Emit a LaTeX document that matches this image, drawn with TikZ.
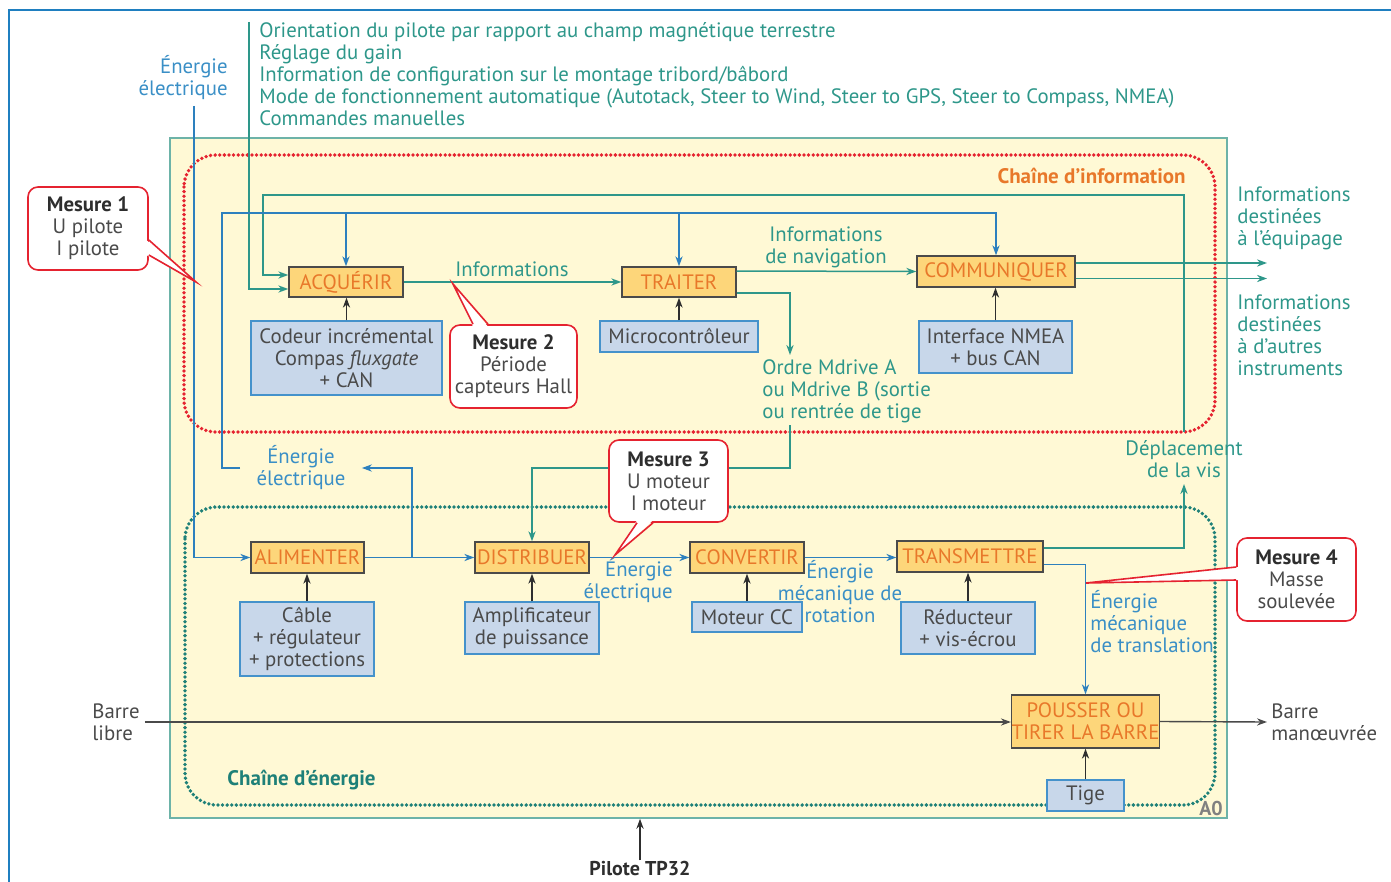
\documentclass[tikz,border=0pt]{standalone}
\usepackage{fontspec}
\setmainfont{PT Sans}
\usetikzlibrary{arrows.meta,positioning,calc}
\definecolor{infoteal}{HTML}{2E978A}
\definecolor{enerblue}{HTML}{2D80BE}
\definecolor{enertext}{HTML}{3A8FC6}
\definecolor{fonctorange}{HTML}{E8782A}
\definecolor{fonctfill}{HTML}{FDD67A}
\definecolor{boxline}{HTML}{4A4A4A}
\definecolor{supfill}{HTML}{C8D7EA}
\definecolor{supline}{HTML}{4592CB}
\definecolor{mesred}{HTML}{E52330}
\definecolor{fondjaune}{HTML}{FFF9D5}
\definecolor{cadreteal}{HTML}{6DB3A8}
\definecolor{enerdot}{HTML}{1E8078}
\definecolor{inkdark}{HTML}{2E2E2E}
\definecolor{inkgray}{HTML}{4A4A4A}
\definecolor{frameblue}{HTML}{1F7FC0}

% pointer of a callout: two base points on the border, tip, inward shift
\newcommand{\pointe}[4]{%
  \fill[white] ($#1+#4$) -- #3 -- ($#2+#4$) -- cycle;
  \draw[mesred, line width=0.8pt, line join=miter] #1 -- #3 -- #2;}

\begin{document}
\begin{tikzpicture}[
    x=0.5pt, y=-0.5pt,
    font=\fontsize{10.4}{11}\selectfont,
    >={Stealth[length=5pt, width=3.6pt]},
    fonction/.style={draw=boxline, line width=0.7pt, fill=fonctfill, text=fonctorange,
                     inner sep=0pt, align=center},
    support/.style={draw=supline, line width=0.7pt, fill=supfill, text=inkgray,
                    inner sep=0pt, align=center},
    info/.style={->, draw=infoteal, line width=0.75pt},
    energie/.style={->, draw=enerblue, line width=0.75pt},
    infotxt/.style={text=infoteal, inner sep=0pt},
    enertxt/.style={text=enertext, inner sep=0pt},
    porte/.style={->, draw=inkdark, line width=0.7pt},
    bulle/.style={draw=mesred, line width=0.8pt, fill=white, rounded corners=5pt,
                  align=center, text=inkgray, inner sep=0pt},
    chaine/.style={rounded corners=16pt, line width=1.9pt, line cap=round,
                   dash pattern=on 0pt off 2.3pt},
]
    \useasboundingbox (0,0) rectangle (1391,882);

    % ============================================================
    %  FRAMES
    % ============================================================
    \draw[frameblue, line width=0.8pt] (9,882) |- (1391,10);
    \node[draw=cadreteal, line width=0.8pt, fill=fondjaune, minimum width=528.5pt,
          minimum height=340pt, inner sep=0pt] (cadre) at (698.5,478) {};
    \draw[chaine, mesred] (184,155) rectangle (1215,432);
    \draw[chaine, enerdot] (185,507) rectangle (1215,805);

    \node[anchor=east, text=fonctorange, font=\fontsize{10.5}{12}\selectfont\bfseries,
          inner sep=0pt] (chinfo) at (1186,176) {Chaîne d’information};
    \node[anchor=west, text=enerdot, font=\fontsize{10.5}{12}\selectfont\bfseries,
          inner sep=0pt] (chener) at (227,780) {Chaîne d’énergie};
    \node[text=gray, font=\bfseries, inner sep=0pt] (a0) at (1211,808) {A0};

    % ============================================================
    %  FUNCTIONS (orange) AND SUPPORTS (blue)
    % ============================================================
    \node[fonction, minimum width=57pt, minimum height=15pt] (acq) at (346,282) {ACQUÉRIR};
    \node[fonction, minimum width=57pt, minimum height=15pt] (trai) at (679,282) {TRAITER};
    \node[fonction, minimum width=79pt, minimum height=15.5pt] (comm) at (996,271.5) {COMMUNIQUER};
    \node[fonction, minimum width=56.5pt, minimum height=15.5pt] (alim) at (307.5,557.5) {ALIMENTER};
    \node[fonction, minimum width=57pt, minimum height=15.5pt] (dist) at (532,557.5) {DISTRIBUER};
    \node[fonction, minimum width=57pt, minimum height=15.5pt] (conv) at (747,557.5) {CONVERTIR};
    \node[fonction, minimum width=73pt, minimum height=15.5pt] (trans) at (970,556.5) {TRANSMETTRE};
    \node[fonction, minimum width=73.5pt, minimum height=26.5pt] (pous) at (1085.5,721.5)
          {POUSSER OU\\TIRER LA BARRE};

    \node[support, minimum width=95.5pt, minimum height=37pt] (codeur) at (346.5,358)
          {Codeur incrémental\\Compas \textit{fluxgate}\\+ CAN};
    \node[support, minimum width=79pt, minimum height=15.5pt] (micro) at (679,336.5) {Microcontrôleur};
    \node[support, minimum width=76.5pt, minimum height=26pt] (nmea) at (995.5,347)
          {Interface NMEA\\+ bus CAN};
    \node[support, minimum width=67pt, minimum height=37pt] (cable) at (307,639)
          {Câble\\+ régulateur\\+ protections};
    \node[support, minimum width=67pt, minimum height=26pt] (ampli) at (532,628)
          {Amplificateur\\de puissance};
    \node[support, minimum width=55pt, minimum height=15pt] (moteur) at (747,617) {Moteur CC};
    \node[support, minimum width=67pt, minimum height=26pt] (reduc) at (968,628)
          {Réducteur\\+ vis-écrou};
    \node[support, minimum width=38.5pt, minimum height=15.5pt] (tige) at (1085.5,795.5) {Tige};

    \foreach \s/\f in {codeur/acq, micro/trai, nmea/comm, cable/alim, ampli/dist,
                       moteur/conv, reduc/trans, tige/pous}
        \draw[porte] (\s.north) -- (\s.north |- \f.south);

    % ============================================================
    %  LABELS
    % ============================================================
    \node[infotxt, anchor=west, align=left] (consignes) at (259,74)
          {Orientation du pilote par rapport au champ magnétique terrestre\\
           Réglage du gain\\
           Information de configuration sur le montage tribord/bâbord\\
           Mode de fonctionnement automatique (Autotack, Steer to Wind, Steer to GPS, Steer to Compass, NMEA)\\
           Commandes manuelles};
    \node[enertxt, anchor=east, align=right] (elec1) at (228,78) {Énergie\\électrique};
    \node[infotxt] (inf1) at (512,269) {Informations};
    \node[infotxt, align=center] (inf2) at (826,247) {Informations\\de navigation};
    \node[infotxt, anchor=west, align=left] (ordretxt) at (762,391)
          {Ordre Mdrive A\\ou Mdrive B (sortie\\ou rentrée de tige};
    \node[infotxt, anchor=west, align=left] (equip) at (1237,218)
          {Informations\\destinées\\à l’équipage};
    \node[infotxt, anchor=west, align=left] (instr) at (1237,335)
          {Informations\\destinées\\à d’autres\\instruments};
    \node[infotxt, align=center] (depltxt) at (1184,459) {Déplacement\\de la vis};
    \node[enertxt, align=center, inner xsep=8pt] (elec2) at (301,468) {Énergie\\électrique};
    \node[enertxt, anchor=east, align=right] (elec3) at (673,581) {Énergie\\électrique};
    \node[enertxt, align=center] (rot) at (840,592) {Énergie\\mécanique de\\rotation};
    \node[enertxt, anchor=west, align=left] (transl) at (1090,622)
          {Énergie\\mécanique\\de translation};
    \node[text=inkgray, anchor=west, align=left, inner sep=0pt] (libre) at (92,722) {Barre\\libre};
    \node[text=inkgray, anchor=west, align=left, inner sep=0pt] (manoeuvree) at (1271,722)
          {Barre\\manœuvrée};
    \node[text=inkdark, font=\bfseries, inner sep=0pt] (pilote) at (640,868) {Pilote TP32};

    % ============================================================
    %  INFORMATION FLOW
    % ============================================================
    \coordinate (orient) at (249,22);
    \coordinate (boucle) at (263,195);
    \coordinate (deplhaut) at (1184,432);
    \coordinate (deplbas) at (1184,484);
    \coordinate (ordre) at (790,355);
    \coordinate (ordrebas) at (790,425);
    \coordinate (coude) at (532,468);
    \coordinate (sortie1) at (1267,263);
    \coordinate (sortie2) at (1267,278.5);

    \draw[info] (orient) |- ($(acq.west)+(0,7)$);
    \draw[info] (deplhaut) |- (boucle) |- ($(acq.west)+(0,-7)$);
    \draw[info] (acq) -- (trai);
    \draw[info] ($(trai.east)+(0,-11)$) -- (comm.west);
    \draw[info] ($(trai.east)+(0,11)$) -| (ordre);
    \draw[info] (ordrebas) |- (coude) -- (dist.north);
    \draw[info] ($(comm.east)+(0,-8.5)$) -- (sortie1);
    \draw[info] ($(comm.east)+(0,7)$) -- (sortie2);
    \draw[info] ($(trans.east)+(0,-8.5)$) -| (deplbas);

    % ============================================================
    %  ENERGY FLOW
    % ============================================================
    \coordinate (alimhaut) at (194,106);
    \coordinate (branche) at (412,557.5);
    \coordinate (rail) at (222,213);

    \draw[energie] (alimhaut) |- (alim.west);
    \draw[energie] (alim) -- (dist);
    \draw[energie] (branche) |- (elec2.east);
    \draw[energie] (elec2.west) -| (rail) -| (comm.north);
    \draw[energie] (acq.north |- rail) -- (acq.north);
    \draw[energie] (trai.north |- rail) -- (trai.north);
    \draw[energie] (dist) -- (conv);
    \draw[energie] (conv.east) -- (conv.east -| trans.west);
    \draw[energie] ($(trans.east)+(0,8)$) -| (pous.north);

    \draw[porte, draw=inkgray] ($(libre.east)+(5,0)$) -- (libre.east -| pous.west);
    \draw[porte, draw=inkgray] (pous.east) -- ($(manoeuvree.west)+(-4,0)$);
    \draw[porte] (pilote.north) -- (pilote.north |- cadre.south);

    % ============================================================
    %  MEASUREMENT CALLOUTS
    % ============================================================
    \node[bulle, minimum width=60pt, minimum height=41.5pt] (m1) at (88,228.5)
          {\textbf{\color{inkdark}Mesure 1}\\U pilote\\I pilote};
    \node[bulle, minimum width=63.5pt, minimum height=41.5pt] (m2) at (513.5,366.5)
          {\textbf{\color{inkdark}Mesure 2}\\Période\\capteurs Hall};
    \node[bulle, minimum width=59.5pt, minimum height=41pt] (m3) at (668.5,481)
          {\textbf{\color{inkdark}Mesure 3}\\U moteur\\I moteur};
    \node[bulle, minimum width=59.5pt, minimum height=41.5pt] (m4) at (1296.5,579.5)
          {\textbf{\color{inkdark}Mesure 4}\\Masse\\soulevée};

    \coordinate (m1a) at ($(m1.east)+(0,11.5)$);
    \coordinate (m1b) at ($(m1.east)+(0,26.5)$);
    \coordinate (m1tip) at (196,282);
    \coordinate (m2a) at ($(m2.north)+(-40.5,0)$);
    \coordinate (m2b) at ($(m2.north)+(-25.5,0)$);
    \coordinate (m2tip) at (453,284);
    \coordinate (m3a) at ($(m3.south)+(-31.5,0)$);
    \coordinate (m3b) at ($(m3.south)+(-15.5,0)$);
    \coordinate (m3tip) at (615,555);
    \coordinate (m4a) at ($(m4.west)+(0,-12.5)$);
    \coordinate (m4b) at ($(m4.west)+(0,0.5)$);
    \coordinate (m4tip) at (1086,583);

    \pointe{(m1a)}{(m1b)}{(m1tip)}{(-2.5,0)}
    \pointe{(m2a)}{(m2b)}{(m2tip)}{(0,2.5)}
    \pointe{(m3a)}{(m3b)}{(m3tip)}{(0,-2.5)}
    \pointe{(m4a)}{(m4b)}{(m4tip)}{(2.5,0)}

\end{tikzpicture}
\end{document}
